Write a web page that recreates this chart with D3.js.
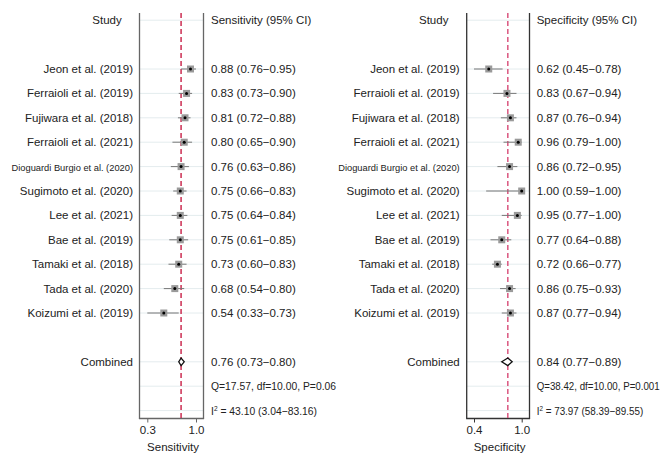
<!DOCTYPE html>
<html>
<head>
<meta charset="utf-8">
<script src="https://cdn.jsdelivr.net/npm/d3@7"></script>
<style>
  body { margin: 0; background: #fff; }
  svg { font-family: "Liberation Sans", Arial, sans-serif; }
</style>
</head>
<body>
<div id="chart"></div>
<script>
// study names, top to bottom
const studies = [
  'Jeon et al. (2019)', 'Ferraioli et al. (2019)', 'Fujiwara et al. (2018)',
  'Ferraioli et al. (2021)', 'Dioguardi Burgio et al. (2020)', 'Sugimoto et al. (2020)',
  'Lee et al. (2021)', 'Bae et al. (2019)', 'Tamaki et al. (2018)',
  'Tada et al. (2020)', 'Koizumi et al. (2019)'
];

const sensEst = [0.88, 0.83, 0.81, 0.80, 0.76, 0.75, 0.75, 0.75, 0.73, 0.68, 0.54];
const sensLo  = [0.76, 0.73, 0.72, 0.65, 0.63, 0.66, 0.64, 0.61, 0.60, 0.54, 0.33];
const sensHi  = [0.95, 0.90, 0.88, 0.90, 0.86, 0.83, 0.84, 0.85, 0.83, 0.80, 0.73];

const specEst = [0.62, 0.83, 0.87, 0.96, 0.86, 1.00, 0.95, 0.77, 0.72, 0.86, 0.87];
const specLo  = [0.45, 0.67, 0.76, 0.79, 0.72, 0.59, 0.77, 0.64, 0.66, 0.75, 0.77];
const specHi  = [0.78, 0.94, 0.94, 1.00, 0.95, 1.00, 1.00, 0.88, 0.77, 0.93, 0.94];

// combined estimate, lower, upper
const sensCombined = [0.76, 0.73, 0.80];
const specCombined = [0.84, 0.77, 0.89];

// heterogeneity: Q, df, P, I2, I2 lower, I2 upper
const sensHet = ['17.57', '10.00', '0.06', '43.10', '3.04', '83.16'];
const specHet = ['38.42', '10.00', '0.001', '73.97', '58.39', '89.55'];

// axis ticks sit at min / max of the CIs, labels are rounded
const sensTicks = [0.33, 0.95];
const sensTickLabels = ['0.3', '1.0'];
const specTicks = [0.45, 1.00];
const specTickLabels = ['0.4', '1.0'];

const width = 667, height = 459;
const svg = d3.select('#chart').append('svg')
  .attr('width', width)
  .attr('height', height);

// rows: 0 header, 2..12 studies, 14 combined, 15 Q, 16 I2
const y = d3.scaleLinear().domain([0, 16]).range([20.2, 410.6]);
const boxTop = 13, boxBottom = 418.5;
const fmt = d3.format('.2f');

const panels = [
  {
    name: 'Sensitivity', est: sensEst, lo: sensLo, hi: sensHi, comb: sensCombined, het: sensHet,
    ticks: sensTicks, tickLabels: sensTickLabels,
    labelX: 133, boxL: 139.5, boxR: 203.5, r0: 147.3, r1: 196, textX: 211,
    qLen: 125, iLen: 106,
    frame: '#666', ref: '#c81e45'
  },
  {
    name: 'Specificity', est: specEst, lo: specLo, hi: specHi, comb: specCombined, het: specHet,
    ticks: specTicks, tickLabels: specTickLabels,
    labelX: 459.7, boxL: 466.7, boxR: 529.5, r0: 474, r1: 521.7, textX: 536.7,
    qLen: 123, iLen: 106.5,
    frame: '#333', ref: '#d84a76'
  }
];

panels.forEach(p => {
  const x = d3.scaleLinear().domain(p.ticks).range([p.r0, p.r1]);
  const g = svg.append('g');

  const gridRows = [0, ...d3.range(2, 13), 14, 15, 16];
  g.selectAll('line.grid')
    .data(gridRows)
    .enter()
    .append('line')
    .attr('x1', p.boxL).attr('x2', p.boxR)
    .attr('y1', d => y(d)).attr('y2', d => y(d))
    .attr('stroke', '#e4ecee')
    .attr('stroke-width', 1);

  // frame: left and right sides
  [p.boxL, p.boxR].forEach(xx => {
    g.append('line')
      .attr('x1', xx).attr('x2', xx)
      .attr('y1', boxTop).attr('y2', boxBottom)
      .attr('stroke', p.frame)
      .attr('stroke-width', 1.3);
  });

  // bottom axis
  const axis = d3.axisBottom(x)
    .tickValues(p.ticks)
    .tickFormat((d, i) => p.tickLabels[i])
    .tickSize(4)
    .tickPadding(3);
  const ax = g.append('g')
    .attr('transform', `translate(0,${boxBottom})`)
    .call(axis);
  ax.select('.domain').remove();
  ax.append('line')
    .attr('x1', p.boxL - 0.6).attr('x2', p.boxR + 0.6)
    .attr('stroke', p.frame).attr('stroke-width', 1.3);
  ax.selectAll('.tick line').attr('stroke', p.frame);
  ax.selectAll('.tick text')
    .attr('font-size', '11.5px')
    .attr('fill', '#222')
    .attr('font-family', '"Liberation Sans", Arial, sans-serif');

  g.append('text')
    .attr('x', (p.boxL + p.boxR) / 2 + 1.5)
    .attr('y', 451)
    .attr('text-anchor', 'middle')
    .attr('font-size', '11.5px')
    .attr('fill', '#222')
    .text(p.name);

  // reference line at combined estimate
  g.append('line')
    .attr('x1', x(p.comb[0])).attr('x2', x(p.comb[0]))
    .attr('y1', boxTop).attr('y2', boxBottom)
    .attr('stroke', p.ref)
    .attr('stroke-width', 1.4)
    .attr('stroke-dasharray', '5,3');

  // CI lines
  g.selectAll('line.ci')
    .data(studies)
    .enter()
    .append('line')
    .attr('x1', (d, i) => x(p.lo[i]))
    .attr('x2', (d, i) => x(p.hi[i]))
    .attr('y1', (d, i) => y(i + 2))
    .attr('y2', (d, i) => y(i + 2))
    .attr('stroke', '#777')
    .attr('stroke-width', 1);

  const sq = 7;
  g.selectAll('rect.w')
    .data(studies)
    .enter()
    .append('rect')
    .attr('x', (d, i) => x(p.est[i]) - sq / 2)
    .attr('y', (d, i) => y(i + 2) - sq / 2)
    .attr('width', sq)
    .attr('height', sq)
    .attr('fill', '#9a9a9a');

  g.selectAll('circle.pt')
    .data(studies)
    .enter()
    .append('circle')
    .attr('cx', (d, i) => x(p.est[i]))
    .attr('cy', (d, i) => y(i + 2))
    .attr('r', 1.5)
    .attr('fill', '#000');

  // combined diamond
  const cy = y(14), dh = 3.8;
  g.append('path')
    .attr('d', `M${x(p.comb[1])},${cy} L${x(p.comb[0])},${cy - dh} L${x(p.comb[2])},${cy} L${x(p.comb[0])},${cy + dh} Z`)
    .attr('fill', '#fff')
    .attr('stroke', '#111')
    .attr('stroke-width', 1.3);

  // left column labels
  g.append('text')
    .attr('x', p.labelX - 26).attr('y', y(0) + 4)
    .attr('text-anchor', 'middle')
    .attr('font-size', '11.5px').attr('fill', '#222')
    .text('Study');

  g.selectAll('text.study')
    .data(studies)
    .enter()
    .append('text')
    .attr('x', p.labelX)
    .attr('y', (d, i) => y(i + 2) + 4)
    .attr('text-anchor', 'end')
    .attr('font-size', d => d.startsWith('Dioguardi') ? '9.3px' : '11.5px')
    .attr('fill', '#222')
    .text(d => d);

  g.append('text')
    .attr('x', p.labelX).attr('y', y(14) + 4)
    .attr('text-anchor', 'end')
    .attr('font-size', '11.5px').attr('fill', '#222')
    .text('Combined');

  // right column values
  g.append('text')
    .attr('x', p.textX).attr('y', y(0) + 4)
    .attr('font-size', '11.5px').attr('fill', '#222')
    .text(`${p.name} (95% CI)`);

  g.selectAll('text.val')
    .data(studies)
    .enter()
    .append('text')
    .attr('x', p.textX)
    .attr('y', (d, i) => y(i + 2) + 4)
    .attr('font-size', '11.5px').attr('fill', '#222')
    .text((d, i) => `${fmt(p.est[i])} (${fmt(p.lo[i])}\u2212${fmt(p.hi[i])})`);

  g.append('text')
    .attr('x', p.textX).attr('y', y(14) + 4)
    .attr('font-size', '11.5px').attr('fill', '#222')
    .text(`${fmt(p.comb[0])} (${fmt(p.comb[1])}\u2212${fmt(p.comb[2])})`);

  g.append('text')
    .attr('x', p.textX).attr('y', y(15) + 4)
    .attr('font-size', '10.2px').attr('fill', '#222')
    .attr('textLength', p.qLen)
    .attr('lengthAdjust', 'spacingAndGlyphs')
    .text(`Q=${p.het[0]}, df=${p.het[1]}, P=${p.het[2]}`);

  const i2 = g.append('text')
    .attr('x', p.textX).attr('y', y(16) + 4)
    .attr('font-size', '11px').attr('fill', '#222')
    .attr('textLength', p.iLen)
    .attr('lengthAdjust', 'spacingAndGlyphs');
  i2.append('tspan').text('I');
  i2.append('tspan').attr('font-size', '7px').attr('dy', -4).text('2');
  i2.append('tspan').attr('dy', 4).text(` = ${p.het[3]} (${p.het[4]}\u2212${p.het[5]})`);
});
</script>
</body>
</html>
